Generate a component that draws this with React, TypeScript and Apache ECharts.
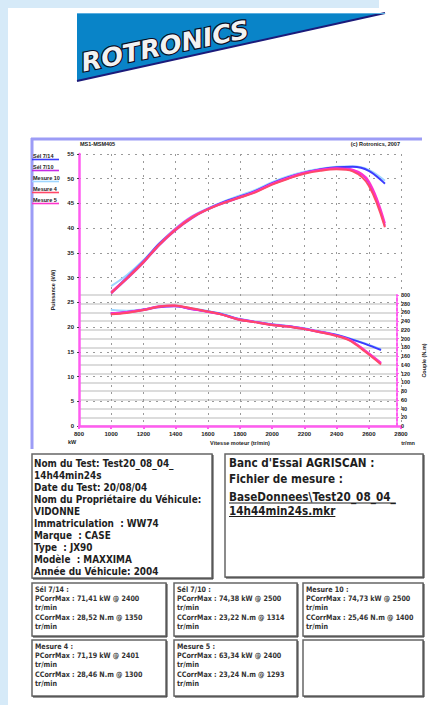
import React, { useEffect, useRef } from "react";
import * as echarts from "echarts";

// ---------- data ----------
const rpm = [1000, 1100, 1200, 1300, 1400, 1500, 1600, 1700, 1800, 1900, 2000, 2100, 2200, 2300, 2400, 2500, 2600, 2700];

const seriesNames = ["Sél 7/14", "Sél 7/10", "Mesure 10", "Mesure 4", "Mesure 5"];
const seriesColors = ["#3b3bff", "#c62be6", "#9fd6ff", "#ff4868", "#ff33cc"];

const power1 = [27.0, 30.1, 33.3, 36.9, 39.8, 42.2, 43.9, 45.3, 46.4, 47.6, 49.1, 50.3, 51.2, 51.9, 52.3, 52.4, 51.6, 49.0];
const power2 = [26.8, 29.8, 33.0, 36.6, 39.6, 42.0, 43.8, 45.1, 46.2, 47.4, 48.9, 50.1, 51.1, 51.8, 52.0, 51.7, 49.2, 40.5];
const power3 = [28.3, 30.6, 33.5, 37.0, 40.0, 42.4, 44.0, 45.4, 46.6, 47.8, 49.3, 50.5, 51.4, 52.0, 52.4, 52.5, 51.8, 49.6];
const power4 = [26.9, 29.9, 33.1, 36.7, 39.7, 42.1, 43.8, 45.1, 46.2, 47.3, 48.8, 50.0, 51.0, 51.6, 51.9, 51.5, 48.6, 40.2];
const power5 = [27.1, 30.0, 33.2, 36.8, 39.9, 42.3, 43.9, 45.2, 46.3, 47.5, 49.0, 50.2, 51.2, 51.8, 52.1, 51.8, 49.5, 41.0];

const torque1 = [258, 261, 266, 273, 275, 269, 263, 256, 245, 239, 233, 229, 224, 217, 210, 200, 188, 174];
const torque2 = [257, 260, 265, 272, 274, 268, 262, 255, 244, 238, 232, 228, 223, 216, 209, 197, 172, 143];
const torque3 = [266, 264, 267, 272, 274, 270, 264, 257, 246, 240, 234, 230, 225, 218, 211, 201, 189, 176];
const torque4 = [256, 259, 265, 273, 276, 270, 263, 255, 244, 238, 232, 228, 223, 216, 208, 196, 170, 141];
const torque5 = [258, 261, 266, 274, 276, 269, 262, 255, 245, 239, 233, 229, 224, 217, 209, 198, 173, 145];

const powerSets = [power1, power2, power3, power4, power5];
const torqueSets = [torque1, torque2, torque3, torque4, torque5];

const rpmRange = [800, 2800, 200];
const powerRange = [0, 55, 5];
const torqueRange = [0, 300, 20];

const chartHeaderLeft = "MS1-MSM405";
const chartHeaderRight = "(c) Rotronics, 2007";

const testInfoLines = [
  "Nom du Test: Test20_08_04_",
  "14h44min24s",
  "Date du Test: 20/08/04",
  "Nom du Propriétaire du Véhicule:",
  "VIDONNE",
  "Immatriculation  : WW74",
  "Marque  : CASE",
  "Type  : JX90",
  "Modèle  : MAXXIMA",
  "Année du Véhicule: 2004",
];
const benchLines = ["Banc d'Essai AGRISCAN :", "Fichier de mesure :"];
const fileLines = ["BaseDonnees\\Test20_08_04_", "14h44min24s.mkr"];

const resultTitles = ["Sél 7/14 :", "Sél 7/10 :", "Mesure 10 :", "Mesure 4 :", "Mesure 5 :"];
const resultPower = ["71,41 kW @ 2400", "74,38 kW @ 2500", "74,73 kW @ 2500", "71,19 kW @ 2401", "63,34 kW @ 2400"];
const resultTorque = ["28,52 N.m @ 1350", "23,22 N.m @ 1314", "25,46 N.m @ 1400", "28,46 N.m @ 1300", "23,24 N.m @ 1293"];

// ---------- drawing ----------
const NARROW = "'Liberation Sans Narrow', 'DejaVu Sans Condensed', 'Liberation Sans', sans-serif";
const SANS = "'Liberation Sans', Arial, sans-serif";
const MAGENTA = "#ff5cf0";

function measure(text: string, font: string): number {
  const c = document.createElement("canvas").getContext("2d");
  if (!c) return text.length * 6;
  c.font = font;
  return c.measureText(text).width;
}

function txt(x: number, y: number, text: string, size: number, opts: any = {}) {
  return {
    type: "text",
    x,
    y,
    rotation: opts.rotation || 0,
    scaleX: opts.scaleX || 1,
    z: opts.z || 10,
    style: {
      text,
      fontSize: size,
      fontFamily: opts.family || NARROW,
      fontWeight: opts.weight || "normal",
      fontStyle: opts.style || "normal",
      fill: opts.fill || "#1a1a1a",
      stroke: opts.stroke,
      lineWidth: opts.lineWidth,
      align: opts.align || "left",
      verticalAlign: opts.valign || "middle",
      lineHeight: opts.lineHeight || size,
    },
  };
}

function box(x: number, y: number, w: number, h: number) {
  return [
    { type: "rect", z: 5, shape: { x: x + 1, y: y + 1, width: w, height: h }, style: { fill: "#333", stroke: "#333", lineWidth: 1 } },
    { type: "rect", z: 6, shape: { x, y, width: w, height: h }, style: { fill: "#fff", stroke: "#666", lineWidth: 1.5 } },
  ];
}

function buildGraphics() {
  const g: any[] = [];
  // page background strips
  g.push({ type: "rect", z: 1, shape: { x: 0, y: 0, width: 8, height: 705 }, style: { fill: "#d6eaf8" } });
  g.push({ type: "rect", z: 1, shape: { x: 0, y: 0, width: 379, height: 8 }, style: { fill: "#d6eaf8" } });

  // logo
  g.push({ type: "polygon", z: 2, shape: { points: [[77, 13], [385, 13], [77, 81]] }, style: { fill: "#0984c8" } });
  g.push({ type: "line", z: 3, shape: { x1: 77, y1: 81, x2: 385, y2: 13 }, style: { stroke: "#1b1b7a", lineWidth: 2 } });
  g.push({ type: "line", z: 3, shape: { x1: 77, y1: 13.5, x2: 385, y2: 13.5 }, style: { stroke: "#5aaee0", lineWidth: 1 } });
  g.push(
    txt(84, 75, "ROTRONICS", 25, {
      family: "'DejaVu Sans', sans-serif",
      weight: "bold",
      style: "italic",
      fill: "#f2f2f2",
      stroke: "#0b0b20",
      lineWidth: 2.4,
      rotation: 0.2,
      scaleX: 1.04,
      valign: "bottom",
      z: 4,
    })
  );

  // chart frame
  g.push({ type: "line", z: 3, shape: { x1: 31, y1: 139, x2: 422, y2: 139 }, style: { stroke: "#9c9cf6", lineWidth: 3 } });
  g.push({ type: "line", z: 3, shape: { x1: 32, y1: 138, x2: 32, y2: 449 }, style: { stroke: "#9c9cf6", lineWidth: 3 } });

  // chart headers
  g.push(txt(80, 144, chartHeaderLeft, 5.5, { weight: "bold", family: SANS }));
  g.push(txt(400, 144, chartHeaderRight, 5.5, { weight: "bold", family: SANS, align: "right" }));

  // legend
  seriesNames.forEach((n, i) => {
    const y = 156 + i * 11;
    g.push(txt(33, y, n, 5.5, { weight: "bold", family: SANS }));
    g.push({ type: "line", z: 9, shape: { x1: 32, y1: y + 3.5, x2: 59, y2: y + 3.5 }, style: { stroke: seriesColors[i], lineWidth: 1.6 } });
  });

  // corner unit labels
  g.push(txt(72, 442, "kW", 5.5, { weight: "bold", family: SANS, align: "center" }));
  g.push(txt(408, 443, "tr/mn", 5.5, { weight: "bold", family: SANS, align: "center" }));

  // test info box
  g.push(...box(32, 454, 180, 124));
  testInfoLines.forEach((l, i) => {
    g.push(txt(34, 463 + i * 12, l, 11, { weight: "bold", fill: "#1e1e1e", scaleX: 0.9 }));
  });

  // bench box
  g.push(...box(225, 454, 198, 123));
  const benchFont = 12;
  const benchScale = 0.97;
  benchLines.forEach((l, i) => {
    g.push(txt(229, 463 + i * 16, l, benchFont, { weight: "bold", fill: "#1e1e1e", scaleX: benchScale }));
  });
  fileLines.forEach((l, i) => {
    const y = 497 + i * 13.5;
    g.push(txt(229, y, l, benchFont, { weight: "bold", fill: "#1e1e1e", scaleX: benchScale }));
    const w = measure(l, `bold ${benchFont}px ${NARROW}`) * benchScale;
    g.push({ type: "line", z: 11, shape: { x1: 229, y1: y + 6, x2: 229 + w, y2: y + 6 }, style: { stroke: "#1e1e1e", lineWidth: 1 } });
  });

  // result boxes
  const cols = [[32, 134], [174, 123], [303, 120]];
  const rows = [[583, 53], [640, 56]];
  for (let k = 0; k < 6; k++) {
    const [bx, bw] = cols[k % 3];
    const [by, bh] = rows[Math.floor(k / 3)];
    g.push(...box(bx, by, bw, bh));
    if (k < resultTitles.length) {
      const lines = [resultTitles[k], "PCorrMax : " + resultPower[k], "tr/min", "CCorrMax : " + resultTorque[k], "tr/min"];
      lines.forEach((l, i) => {
        g.push(txt(bx + 3, by + 6 + i * 9.4, l, 7.5, { weight: "bold", fill: "#333", scaleX: 0.95 }));
      });
    }
  }
  return g;
}

function buildOption() {
  const labelStyle = { fontSize: 6, fontWeight: "bold", color: "#222", fontFamily: SANS };
  const plain = (v: number) => String(v);
  const order = [2, 0, 1, 4, 3];
  const series: any[] = [];
  order.forEach((i) => {
    series.push({
      name: seriesNames[i],
      type: "line",
      xAxisIndex: 0,
      yAxisIndex: 0,
      data: rpm.map((r, j) => [r, powerSets[i][j]]),
      symbol: "none",
      smooth: 0.35,
      lineStyle: { color: seriesColors[i], width: 2 },
      z: 3 + order.indexOf(i),
    });
    series.push({
      name: seriesNames[i] + " C",
      type: "line",
      xAxisIndex: 1,
      yAxisIndex: 1,
      data: rpm.map((r, j) => [r, torqueSets[i][j]]),
      symbol: "none",
      smooth: 0.35,
      lineStyle: { color: seriesColors[i], width: 2 },
      z: 3 + order.indexOf(i),
    });
  });

  return {
    animation: false,
    backgroundColor: "#ffffff",
    grid: [
      { left: 79, right: 34, top: 154, bottom: 279 },
      { left: 79, right: 34, top: 295, bottom: 279 },
    ],
    xAxis: [
      {
        type: "value",
        gridIndex: 0,
        min: rpmRange[0],
        max: rpmRange[1],
        interval: rpmRange[2],
        name: "Vitesse moteur (tr/min)",
        nameLocation: "middle",
        nameGap: 14,
        nameTextStyle: { ...labelStyle, fontSize: 5.5 },
        axisLine: { show: true, lineStyle: { color: MAGENTA, width: 2.5 } },
        axisTick: { show: true, length: 3, lineStyle: { color: MAGENTA, width: 2 } },
        axisLabel: { ...labelStyle, margin: 5, formatter: plain },
        splitLine: { show: true, lineStyle: { color: "#9a9a9a", type: [2, 5], width: 1 } },
      },
      {
        type: "value",
        gridIndex: 1,
        min: rpmRange[0],
        max: rpmRange[1],
        interval: rpmRange[2],
        show: false,
      },
    ],
    yAxis: [
      {
        type: "value",
        gridIndex: 0,
        position: "left",
        min: powerRange[0],
        max: powerRange[1],
        interval: powerRange[2],
        name: "Puissance (kW)",
        nameLocation: "middle",
        nameGap: 12,
        nameRotate: 90,
        nameTextStyle: { ...labelStyle, fontSize: 5.5 },
        axisLine: { show: true, lineStyle: { color: MAGENTA, width: 2.5 } },
        axisTick: { show: true, length: 2, lineStyle: { color: "#444", width: 1 } },
        axisLabel: { ...labelStyle, margin: 5, formatter: plain },
        splitLine: { show: true, lineStyle: { color: "#9a9a9a", type: [2, 5], width: 1 } },
      },
      {
        type: "value",
        gridIndex: 1,
        position: "right",
        min: torqueRange[0],
        max: torqueRange[1],
        interval: torqueRange[2],
        name: "Couple (N.m)",
        nameLocation: "middle",
        nameGap: 15,
        nameRotate: 90,
        nameTextStyle: { ...labelStyle, fontSize: 5.5 },
        axisLine: { show: true, lineStyle: { color: MAGENTA, width: 2, type: [3, 2] } },
        axisTick: { show: true, length: 2, lineStyle: { color: MAGENTA, width: 1 } },
        axisLabel: { ...labelStyle, fontSize: 5.5, margin: 4, formatter: plain },
        splitLine: { show: true, lineStyle: { color: "#dcdcdc", width: 2 } },
      },
    ],
    graphic: buildGraphics(),
    series,
  };
}

export default function App() {
  const ref = useRef<HTMLDivElement>(null);
  useEffect(() => {
    if (!ref.current) return;
    const chart = echarts.init(ref.current, null, { renderer: "svg" });
    chart.setOption(buildOption() as any);
    return () => chart.dispose();
  }, []);
  return (
    <div
      ref={ref}
      style={{ position: "absolute", left: 0, top: 0, width: 435, height: 705, background: "#fff" }}
    />
  );
}
